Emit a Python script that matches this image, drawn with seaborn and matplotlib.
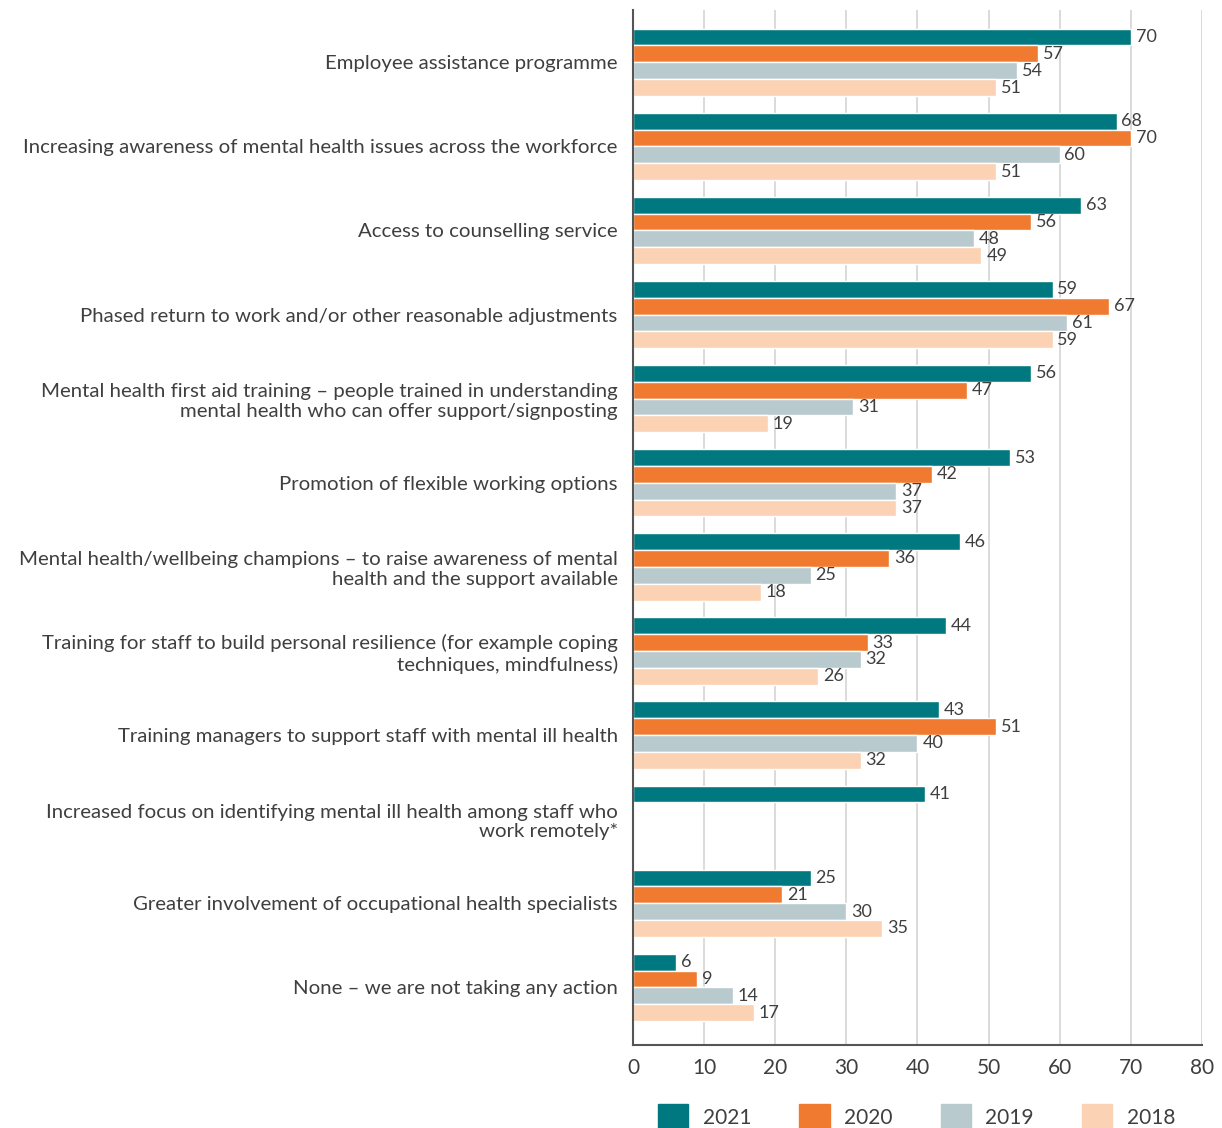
import numpy as np
import pandas as pd
import matplotlib
matplotlib.use("Agg")
import matplotlib.pyplot as plt
import seaborn as sns

categories = [
    "Employee assistance programme",
    "Increasing awareness of mental health issues across the workforce",
    "Access to counselling service",
    "Phased return to work and/or other reasonable adjustments",
    "Mental health first aid training \u2013 people trained in understanding\nmental health who can offer support/signposting",
    "Promotion of flexible working options",
    "Mental health/wellbeing champions \u2013 to raise awareness of mental\nhealth and the support available",
    "Training for staff to build personal resilience (for example coping\ntechniques, mindfulness)",
    "Training managers to support staff with mental ill health",
    "Increased focus on identifying mental ill health among staff who\nwork remotely*",
    "Greater involvement of occupational health specialists",
    "None \u2013 we are not taking any action",
]
years = ["2021", "2020", "2019", "2018"]
v2021 = [70, 68, 63, 59, 56, 53, 46, 44, 43, 41, 25, 6]
v2020 = [57, 70, 56, 67, 47, 42, 36, 33, 51, np.nan, 21, 9]
v2019 = [54, 60, 48, 61, 31, 37, 25, 32, 40, np.nan, 30, 14]
v2018 = [51, 51, 49, 59, 19, 37, 18, 26, 32, np.nan, 35, 17]
x_ticks = [0, 10, 20, 30, 40, 50, 60, 70, 80]

colors = ["#00787F", "#F07A30", "#B9CACF", "#FCD2B4"]
text_color = "#3F3F3F"

sns.set_theme(style="white")
plt.rcParams["font.family"] = ["Lato", "DejaVu Sans"]

df = pd.DataFrame({
    "category": np.repeat(categories, 4),
    "year": years * len(categories),
    "value": np.array([v2021, v2020, v2019, v2018]).T.ravel(),
})

fig = plt.figure(figsize=(12.22, 11.28), dpi=100)
ax = fig.add_axes([0.518, 0.074, 0.4655, 0.917])

sns.barplot(data=df, y="category", x="value", hue="year", hue_order=years,
            order=categories, palette=colors, orient="h", width=0.8,
            saturation=1, dodge=True, ax=ax, legend=False, errorbar=None)

for cont in ax.containers:
    ax.bar_label(cont, fmt="%g", padding=3.5, fontsize=13, color=text_color)

ax.set_xlim(0, 80)
ax.set_ylim(len(categories) - 1 + 0.68, -0.62)
ax.set_xticks(x_ticks)
ax.set_xticklabels([str(t) for t in x_ticks], fontsize=15, color=text_color)
ax.tick_params(axis="x", length=0, pad=10)
ax.tick_params(axis="y", length=0, pad=11, labelsize=14.7, labelcolor=text_color)
ax.set_xlabel("")
ax.set_ylabel("")
ax.xaxis.grid(True, color="#D4D4D4", linewidth=1.2)
ax.set_axisbelow(True)
for s in ["top", "right"]:
    ax.spines[s].set_visible(False)
for s in ["left", "bottom"]:
    ax.spines[s].set_color("#555555")
    ax.spines[s].set_linewidth(1.5)

handles = [plt.Rectangle((0, 0), 1, 1, color=c) for c in colors]
fig.legend(handles, years, loc="lower center", bbox_to_anchor=(0.75, -0.018),
           ncol=4, frameon=False, fontsize=15, handlelength=1.45, handleheight=1.5,
           handletextpad=0.7, columnspacing=2.3, labelcolor=text_color)

fig.savefig("out.png", dpi=100)
